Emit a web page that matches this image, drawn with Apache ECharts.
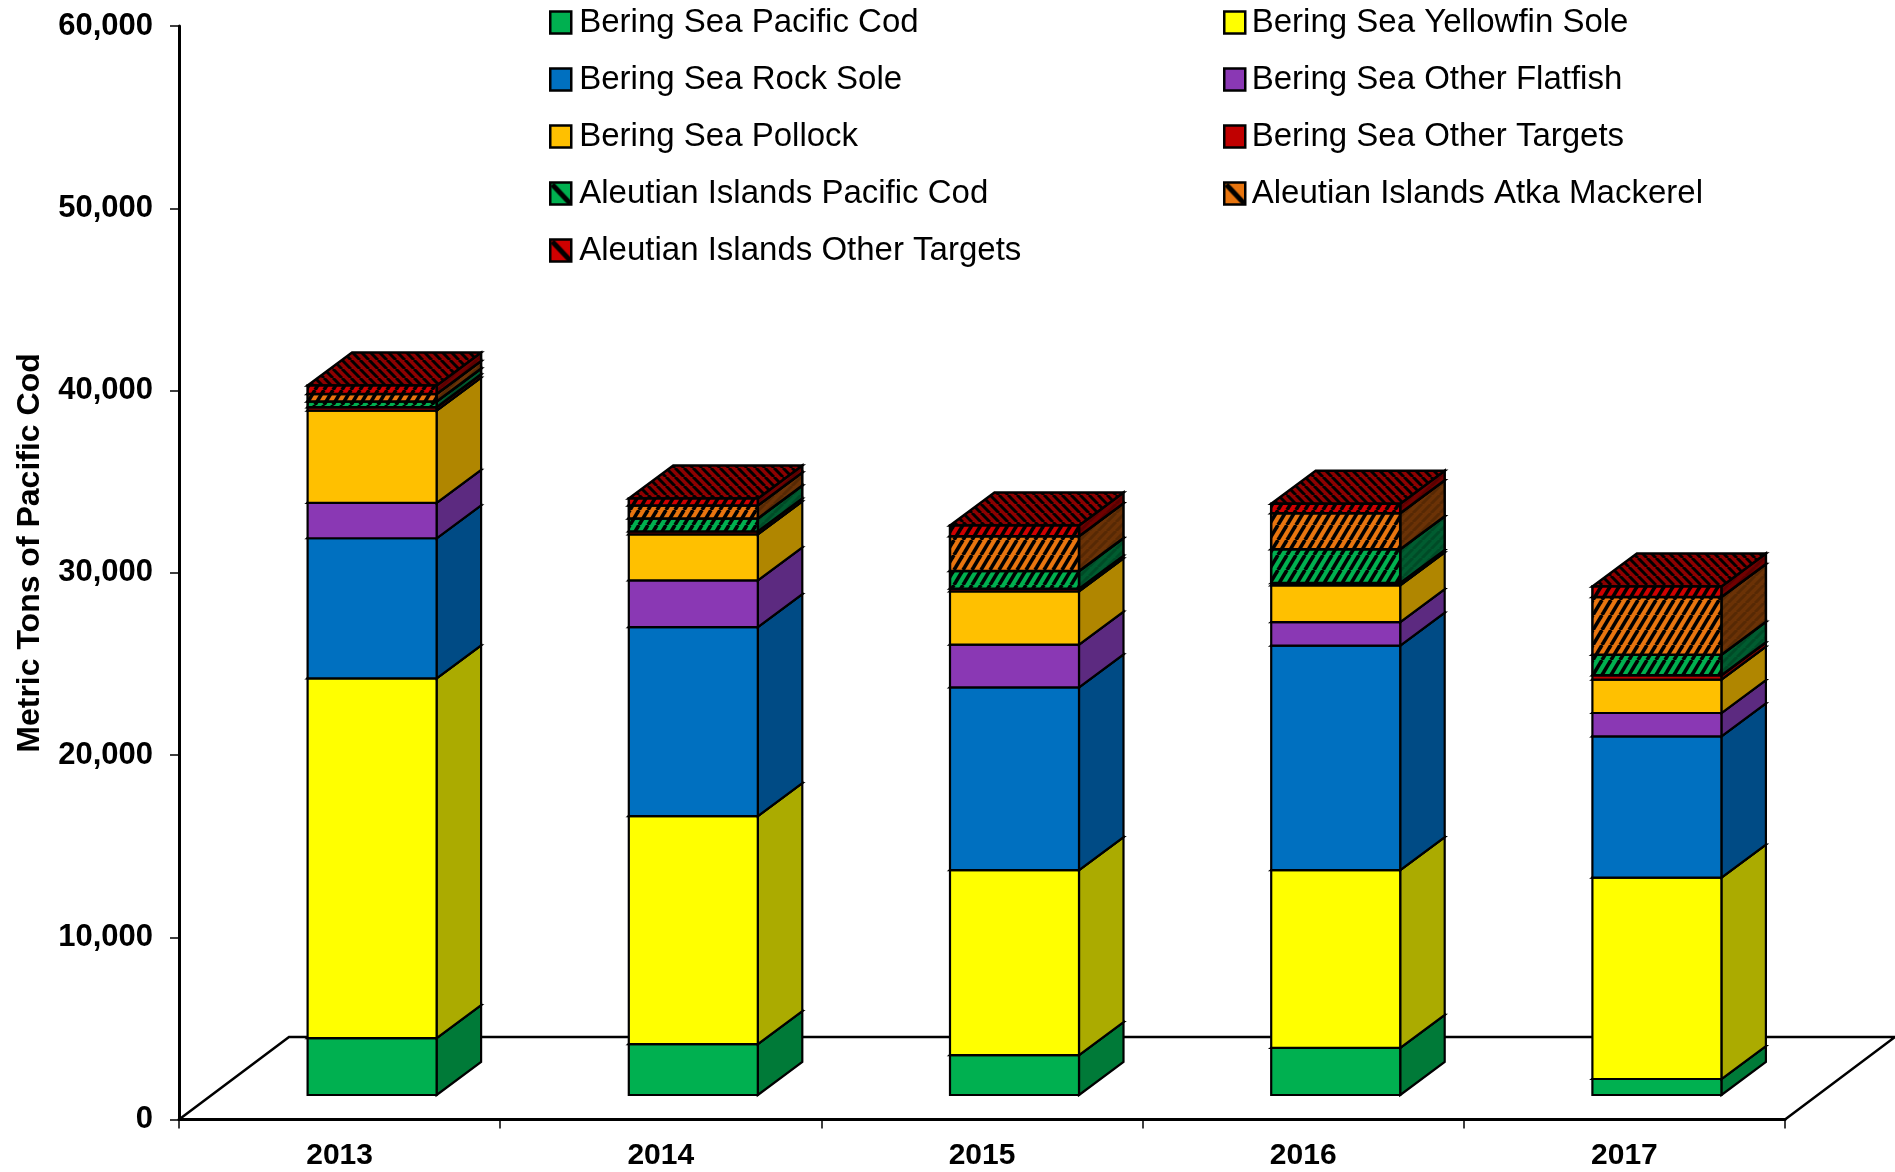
<!DOCTYPE html>
<html><head><meta charset="utf-8">
<style>html,body{margin:0;padding:0;background:#fff}#c{width:1895px;height:1172px}</style>
<script src="https://cdn.jsdelivr.net/npm/echarts@6/dist/echarts.min.js"></script>
</head><body><div id="c"></div>
<script>
const years = ['2013','2014','2015','2016','2017'];
const bsCod       = [3125, 2796, 2193, 2588, 877];
const bsYellowfin = [19737, 12511, 10143, 9748, 11053];
const bsRockSole  = [7686, 10367, 10033, 12319, 7752];
const bsFlatfish  = [1946, 2560, 2341, 1294, 1277];
const bsPollock   = [5060, 2522, 2922, 2012, 1831];
const bsOther     = [181, 164, 148, 126, 236];
const aiCod       = [312, 713, 965, 1864, 1135];
const aiAtka      = [422, 713, 1919, 1974, 3158];
const aiOther     = [455, 384, 587, 515, 587];
const yTicks = {min: 0, max: 60000, interval: 10000};

const stackNames = ['Bering Sea Pacific Cod','Bering Sea Yellowfin Sole','Bering Sea Rock Sole','Bering Sea Other Flatfish','Bering Sea Pollock','Bering Sea Other Targets','Aleutian Islands Pacific Cod','Aleutian Islands Atka Mackerel','Aleutian Islands Other Targets'];
const stackValues = [bsCod,bsYellowfin,bsRockSole,bsFlatfish,bsPollock,bsOther,aiCod,aiAtka,aiOther];
const frontColors = ['#00B050','#FFFF00','#0070C0','#8A38B4','#FFC000','#C00000','#00B050','#E8750F','#D00000'];
const sideColors  = ['#007A38','#ABAB00','#004B85','#5C2A80','#B08600','#7A0000','#005C30','#6B3206','#700000'];
const topColors   = ['#008A40','#C8C800','#005A9A','#6A2E90','#C89800','#900000','#007038','#9A4C08','#8E0000'];
const hatched     = [false,false,false,false,false,false,true,true,true];

function hatch(color, w, h, lineW, back, stripe) {
  const c = document.createElement('canvas');
  c.width = w; c.height = h;
  const g = c.getContext('2d');
  g.fillStyle = color; g.fillRect(0,0,w,h);
  g.strokeStyle = stripe || '#000'; g.lineWidth = lineW;
  for (let k = -1; k <= 1; k++) {
    g.beginPath();
    if (back) { g.moveTo(k*w,0); g.lineTo(k*w+w,h); }
    else { g.moveTo(k*w,h); g.lineTo(k*w+w,0); }
    g.stroke();
  }
  return {image: c, repeat: 'repeat'};
}
function legendIcon(color) {
  const c = document.createElement('canvas');
  c.width = 21; c.height = 22;
  const g = c.getContext('2d');
  g.fillStyle = color; g.fillRect(0,0,21,22);
  g.strokeStyle = '#000'; g.lineWidth = 5;
  g.beginPath(); g.moveTo(2,2); g.lineTo(20,21); g.stroke();
  return {image: c, repeat: 'no-repeat'};
}

// pseudo-3D depth of the bars and of the floor, in pixels
const barDx = 44.5, barDy = 33, liftX = 32.5, liftY = 24.5, barW = 129;
const floorDx = 110, floorDy = 82.5;

function boxRender(si) {
  const front = hatched[si] ? hatch(frontColors[si], 9, 15, 3.6) : frontColors[si];
  const side  = hatched[si] ? hatch(sideColors[si], 9, 9, 3, false, 'rgba(0,0,0,0.18)') : sideColors[si];
  const top   = hatched[si] ? hatch(topColors[si], 9, 9, 3, true) : topColors[si];
  const edge = {stroke:'#000', lineWidth: hatched[si] ? 2.5 : 2.2, lineJoin:'miter'};
  return function (params, api) {
    const i = api.value(0);
    let base = 0;
    for (let k = 0; k < si; k++) base += stackValues[k][i];
    const p0 = api.coord([i, base]);
    const p1 = api.coord([i, base + api.value(1)]);
    const cx = p0[0] + liftX;
    const l = cx - barW/2, r = cx + barW/2;
    const yb = p0[1] - liftY, yt = p1[1] - liftY;
    const children = [
      {type:'polygon', shape:{points:[[r,yb],[r+barDx,yb-barDy],[r+barDx,yt-barDy],[r,yt]]}, style:Object.assign({fill:side},edge)},
      {type:'polygon', shape:{points:[[l,yt],[r,yt],[r+barDx,yt-barDy],[l+barDx,yt-barDy]]}, style:Object.assign({fill:top},edge)},
      {type:'rect', shape:{x:l,y:yt,width:barW,height:yb-yt}, style:Object.assign({fill:front},edge)}
    ];
    return {type:'group', children};
  };
}

const boxSeries = stackNames.map((name, si) => ({
  type:'custom', name, coordinateSystem:'cartesian2d', silent:true, clip:false,
  renderItem: boxRender(si),
  itemStyle:{color: hatched[si] ? legendIcon(frontColors[si]) : frontColors[si]},
  encode:{x:0,y:1},
  data: years.map((y,i)=>[i, stackValues[si][i]])
}));

const floorSeries = {
  type:'custom', name:'floor', silent:true, clip:false,
  renderItem:(params, api) => {
    const s = params.coordSys;
    const y0 = s.y + s.height, x0 = s.x, x1 = s.x + s.width;
    return {type:'polyline', shape:{points:[[x0,y0],[x0+floorDx,y0-floorDy],[x1+floorDx,y0-floorDy],[x1,y0]]},
      style:{fill:null, stroke:'#000', lineWidth:2.5}};
  },
  data:[[0,0]], encode:{x:0,y:1}
};

const legendBase = {
  orient:'vertical', icon:'rect', itemWidth:21, itemHeight:22, itemGap:24,
  selectedMode:false, top:1,
  itemStyle:{borderColor:'#000', borderWidth:2.5}
};
const legendText = pad => ({fontFamily:'Liberation Sans', fontSize:33, color:'#000', padding:[0,0,0,pad], lineHeight:22});

const chart = echarts.init(document.getElementById('c'), null, {renderer:'canvas'});
chart.setOption({
  animation:false,
  backgroundColor:'#fff',
  grid:{left:179, right:110, top:26, bottom:52.5, containLabel:false},
  legend:[
    Object.assign({}, legendBase, {left:544, textStyle:legendText(3), data:[0,2,4,6,8].map(i=>stackNames[i])}),
    Object.assign({}, legendBase, {left:1218, textStyle:legendText(1.5), data:[1,3,5,7].map(i=>stackNames[i])})
  ],
  xAxis:{type:'category', data:years, boundaryGap:true,
    axisLine:{onZero:false, lineStyle:{color:'#000', width:3}},
    axisTick:{show:true, alignWithLabel:false, length:9, lineStyle:{color:'#000', width:1.5}},
    axisLabel:{color:'#000', fontFamily:'Liberation Sans', fontWeight:'bold', fontSize:30, margin:21, interval:0},
    splitLine:{show:false}},
  yAxis:{type:'value', min:yTicks.min, max:yTicks.max, interval:yTicks.interval,
    axisLine:{show:true, lineStyle:{color:'#000', width:3}},
    axisTick:{show:true, length:9, lineStyle:{color:'#000', width:1.5}},
    axisLabel:{color:'#000', fontFamily:'Liberation Sans', fontWeight:'bold', fontSize:31, margin:26,
      formatter:v=>v.toLocaleString('en-US')},
    splitLine:{show:false}},
  graphic:[{type:'text', x:30, y:553, rotation:Math.PI/2,
    style:{text:'Metric Tons of Pacific Cod', fontFamily:'Liberation Sans', fontWeight:'bold', fontSize:32, fill:'#000', align:'center', verticalAlign:'middle'}}],
  series:[floorSeries].concat(boxSeries)
});
</script></body></html>
